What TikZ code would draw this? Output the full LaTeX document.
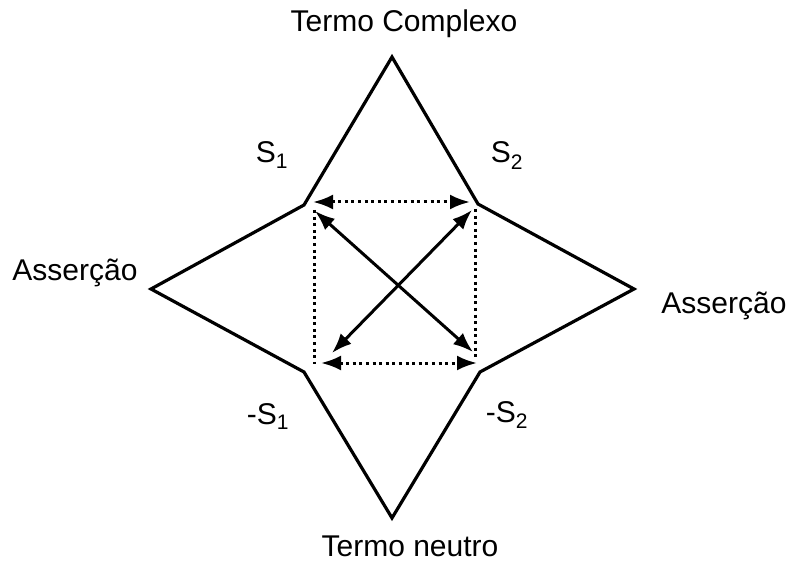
\documentclass[tikz,border=0pt]{standalone}
\usepackage{fontspec}
\setmainfont{Liberation Sans}
\usetikzlibrary{arrows.meta}
\begin{document}
\begin{tikzpicture}[x=1pt,y=-1pt,
  star/.style={line width=3.2pt, line join=miter},
  duplo/.style={line width=3pt, {Latex[length=20pt,width=15pt]}-{Latex[length=20pt,width=15pt]}},
  pontilhado/.style={line width=3pt, dash pattern=on 3pt off 3.6pt},
  duplopont/.style={pontilhado, {Latex[length=20pt,width=15pt]}-{Latex[length=20pt,width=15pt]}},
  rotulo/.style={font=\fontsize{30}{34}\selectfont, anchor=base, inner sep=0pt}]
  \useasboundingbox (0,0) rectangle (787,561);

  % vertices of the four-pointed star
  \coordinate (topo) at (392,57);
  \coordinate (se) at (304,205);
  \coordinate (esq) at (151,289);
  \coordinate (ie) at (304,372);
  \coordinate (base) at (392,518);
  \coordinate (id) at (480,372);
  \coordinate (dir) at (634,289);
  \coordinate (sd) at (478,204);
  \draw[star] (topo) -- (se) -- (esq) -- (ie) -- (base) -- (id) -- (dir) -- (sd) -- cycle;

  % inner square of relations
  \coordinate (a1) at (313,202);
  \coordinate (a2) at (470,202);
  \coordinate (b1) at (321,363);
  \coordinate (b2) at (477,363);
  \coordinate (l1) at (314,210);
  \coordinate (l2) at (314,364);
  \coordinate (r1) at (475,209);
  \coordinate (r2) at (475,359);
  \draw[duplopont] (a1) -- (a2);
  \draw[duplopont] (b1) -- (b2);
  \draw[pontilhado] (l1) -- (l2);
  \draw[pontilhado] (r1) -- (r2);

  % contradictions
  \coordinate (d1) at (315,211);
  \coordinate (d2) at (473,352);
  \coordinate (e1) at (472,210);
  \coordinate (e2) at (332,353);
  \draw[duplo] (d1) -- (d2);
  \draw[duplo] (e1) -- (e2);

  % labels
  \node[rotulo] (tc) at (404,32) {Termo Complexo};
  \node[rotulo] (tn) at (410,556) {Termo neutro};
  \node[rotulo] (ae) at (75,281) {Asserção};
  \node[rotulo] (ad) at (724,313) {Asserção};
  \node[rotulo] (s1) at (272,163) {S\textsubscript{1}};
  \node[rotulo] (s2) at (507,163) {S\textsubscript{2}};
  \node[rotulo] (ns1) at (268,424) {-S\textsubscript{1}};
  \node[rotulo] (ns2) at (507,422) {-S\textsubscript{2}};
\end{tikzpicture}
\end{document}
